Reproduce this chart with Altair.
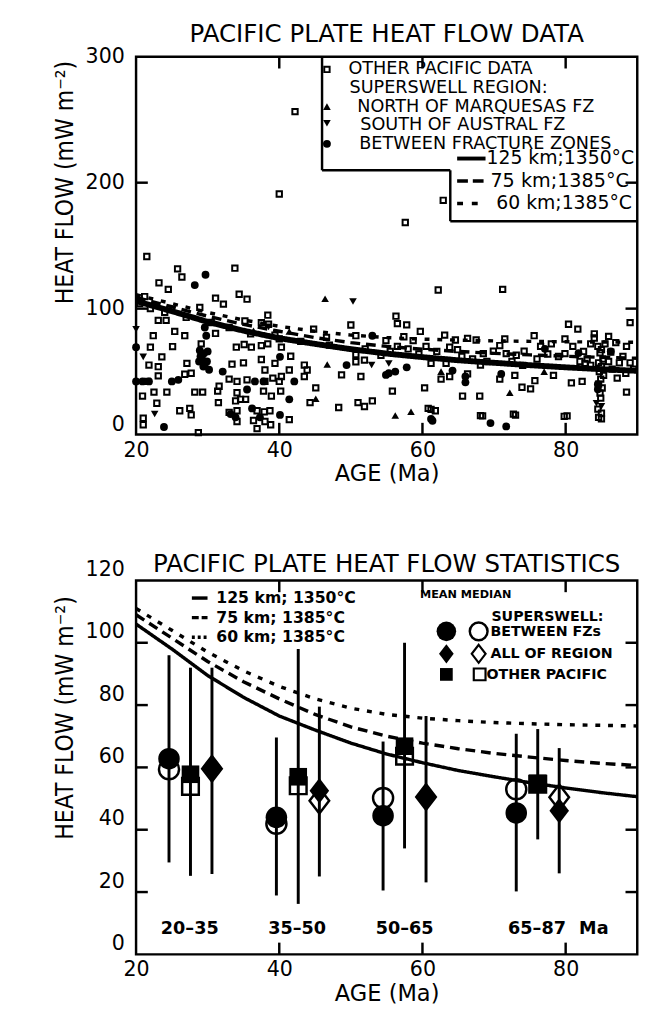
import altair as alt
import pandas as pd

# ---------------- top panel: individual heat-flow measurements ----------------
OTHER_PTS = [
    (21.5, 141.4), (25.8, 131.6), (26.4, 125.1), (23.2, 120.5), (24.5, 115.3), (33.8, 132.1),
    (31.1, 108.3), (32.2, 103.6), (34.4, 111.4), (35.5, 107.5), (28.9, 101.0), (21.2, 109.6),
    (23.1, 90.7), (24.2, 90.7), (25.4, 81.9), (26.8, 78.5), (22.4, 78.5), (25.1, 69.9),
    (22.0, 69.4), (23.6, 61.7), (21.8, 55.2), (23.1, 53.9), (23.1, 46.6), (21.6, 42.2),
    (27.7, 48.7), (26.8, 47.9), (27.1, 56.5), (29.1, 72.0), (31.1, 80.3), (35.2, 90.2),
    (37.5, 88.9), (38.4, 94.8), (38.5, 87.6), (34.0, 69.4), (35.1, 71.5), (36.1, 69.4),
    (37.5, 70.7), (38.4, 72.0), (39.4, 79.0), (40.3, 69.4), (41.6, 62.2), (33.4, 55.9),
    (35.0, 57.0), (37.5, 59.6), (38.0, 51.3), (39.4, 56.5), (41.4, 51.3), (43.5, 55.2),
    (43.9, 51.3), (43.5, 46.1), (44.8, 83.7), (46.6, 77.2), (50.0, 87.0), (50.7, 78.5),
    (50.7, 63.5), (51.9, 59.1), (50.7, 57.8), (51.4, 46.1), (48.7, 47.4), (20.9, 30.6),
    (22.5, 33.7), (24.3, 33.7), (22.9, 24.9), (21.0, 13.0), (21.0, 7.8), (26.1, 18.9),
    (27.5, 20.8), (27.7, 15.6), (28.2, 33.7), (29.3, 33.7), (31.4, 34.5), (31.6, 38.4),
    (31.5, 25.4), (33.0, 44.0), (34.1, 42.2), (35.5, 43.5), (38.0, 42.2), (39.1, 44.8),
    (40.0, 42.2), (37.8, 34.5), (38.9, 30.6), (40.2, 34.5), (40.3, 46.1), (34.1, 33.2),
    (34.6, 28.0), (33.9, 26.7), (35.3, 28.0), (33.0, 17.6), (34.1, 18.9), (34.1, 10.4),
    (36.9, 18.9), (37.9, 18.1), (38.7, 18.9), (36.4, 11.2), (38.0, 10.4), (38.8, 7.8),
    (36.9, 4.7), (41.4, 11.9), (45.1, 37.1), (44.3, 25.4), (48.3, 21.5), (51.0, 25.4),
    (51.9, 22.3), (53.0, 26.7), (28.7, 1.5), (54.2, 62.9),
    (20.5, 104), (22.0, 100), (24.0, 97), (27.0, 93), (30.5, 89), (33.0, 85), (36.0, 80),
    (40.0, 76), (43.0, 74), (47.0, 71), (52.0, 68),
    (57.6, 168.4), (62.9, 186), (62.2, 114.8), (71.2, 115.3), (56.3, 94.0), (56.5, 88.1),
    (57.8, 87.1), (59.7, 81.9), (57.4, 77.7), (58.7, 74.6), (63.1, 79.0), (64.6, 75.1),
    (66.3, 76.4), (67.5, 75.1), (63.8, 69.4), (64.9, 67.4), (71.5, 75.9), (70.8, 70.7),
    (69.9, 66.3), (68.5, 64.3), (71.7, 64.3), (73.1, 63.0), (74.2, 66.3), (75.6, 78.5),
    (80.4, 87.6), (81.7, 83.7), (79.9, 75.9), (79.9, 64.3), (84.0, 76.7), (85.0, 67.4),
    (86.3, 65.5), (89.0, 88.9), (61.2, 56.5), (63.3, 56.5), (66.3, 48.2), (63.8, 46.1),
    (62.6, 44.0), (68.1, 55.2), (72.9, 47.0), (70.8, 44.0), (75.7, 42.8), (75.1, 36.3),
    (73.9, 37.6), (78.3, 47.0), (80.8, 41.0), (82.3, 42.2), (82.7, 56.5), (87.2, 44.8),
    (88.4, 48.7), (88.5, 33.7), (55.8, 34.5), (60.3, 37.1), (65.6, 30.6), (68.0, 30.6),
    (60.8, 20.8), (61.8, 18.9), (68.1, 15.1), (72.7, 16.3), (79.8, 14.5), (84.5, 20.2),
    (84.6, 13.7), (54.9, 74.6), (61.2, 20.0), (68.4, 14.8), (73.0, 15.5), (80.2, 14.8),
    (85.0, 17.0), (85.0, 12.5),
    (84.5, 70), (84.8, 65), (85.2, 60), (84.6, 57), (85.0, 54), (84.7, 50), (85.3, 47),
    (84.9, 44), (84.6, 40), (85.1, 37), (84.8, 33), (84.9, 29), (83.5, 55), (86.0, 58),
    (85.5, 72), (83.0, 60), (86.5, 52), (82.0, 58), (87.5, 57), (88.0, 62), (89.0, 57),
    (89.5, 52), (86.0, 78), (87.0, 73), (84.0, 80), (88.5, 70),
    (55.5, 66), (56.5, 70), (58.0, 68), (59.5, 64), (60.5, 70), (62.0, 66), (65.5, 62),
    (67.0, 60), (69.0, 58), (72.5, 58), (74.0, 55), (76.0, 60), (77.5, 64), (79.0, 62),
    (81.0, 70), (82.5, 66), (83.5, 72), (78.0, 72), (76.5, 70),
    (42.2, 256.4), (40.0, 191.0),
]
BETWEEN_PTS = [
    (29.7, 126.9), (28.2, 118.7), (53.0, 78.5), (20.0, 69.4), (20.0, 42.2), (20.9, 42.2),
    (21.8, 42.2), (23.9, 6.0), (25.0, 42.2), (25.9, 43.5), (28.9, 66.8), (29.5, 64.5),
    (29.2, 60.5), (29.9, 58.0), (29.4, 54.0), (30.2, 51.5), (29.0, 62.0), (30.0, 66.0),
    (29.6, 56.0), (28.8, 58.0), (29.6, 85.0), (29.8, 78.5), (32.1, 50.0), (35.5, 35.8),
    (36.6, 42.2), (37.8, 42.2), (33.2, 16.3), (33.9, 13.7), (36.2, 20.8), (37.3, 13.7),
    (40.1, 15.6), (40.1, 61.7), (41.4, 28.0), (42.1, 42.2), (49.4, 55.2), (54.9, 47.4),
    (55.3, 48.7), (56.2, 50.0), (57.8, 53.4), (64.2, 50.8), (66.0, 41.5), (66.0, 46.1),
    (71.0, 48.2), (77.1, 68.1), (81.8, 64.7), (86.3, 66.0), (84.5, 40.0), (84.5, 36.0),
    (61.2, 12.4), (69.5, 9.1), (71.7, 6.5), (61.4, 11.0),
]
NORTH_PTS = [
    (46.4, 107.8), (46.7, 55.7), (45.1, 28.5), (41.4, 81.9), (36.4, 82.4), (62.6, 50.0),
    (58.4, 18.2), (56.2, 15.1), (77.0, 50.0), (72.2, 33.2),
]
SOUTH_PTS = [
    (20.0, 83.7), (21.0, 61.7), (22.6, 16.3), (50.3, 105.7), (52.9, 55.2), (38.5, 85.5),
    (55.3, 56.5), (84.3, 24.9), (85.0, 22.5),
]

# ---------------- model curves ----------------
MODEL_AGE = [20, 25, 30, 35, 40, 45, 50, 55, 60, 65, 70, 75, 80, 85, 90]
HF_125 = [106, 98, 89.5, 82.5, 76.5, 72, 67.8, 64.3, 61.5, 59, 57, 55.1, 53.4, 51.9, 50.6]
HF_75 = [109, 101.5, 94, 87.5, 82, 77, 73, 70, 67.8, 66, 64.5, 63.3, 62.2, 61.3, 60.6]
HF_60 = [111, 104, 97, 91, 86, 82, 79, 77, 75.8, 75, 74.4, 74, 73.7, 73.5, 73.3]
MODEL_LABELS = ["125 km;1350°C", "75 km;1385°C", "60 km;1385°C"]
MODEL_LABELS2 = ["125 km; 1350°C", "75 km; 1385°C", "60 km; 1385°C"]

# ---------------- bottom panel: statistics ----------------
GROUP_LABELS = ["20–35", "35–50", "50–65", "65–87"]
GROUP_LO = [20, 35, 50, 65]
GROUP_HI = [35, 50, 65, 87]

BTW_AGE = [24.6, 39.6, 54.5, 73.1]
BTW_MEAN = [62.8, 44.0, 44.5, 45.4]
BTW_MEDIAN = [59.4, 41.9, 50.2, 53.0]
BTW_LO = [29.5, 18.9, 20.5, 20.2]
BTW_HI = [96.0, 69.6, 68.3, 70.8]

REG_AGE = [30.6, 45.6, 60.5, 79.1]
REG_MEAN = [59.9, 52.5, 50.7, 46.1]
REG_MEDIAN = [59.6, 49.3, 50.5, 50.4]
REG_LO = [25.8, 25.0, 23.1, 26.0]
REG_HI = [92.0, 79.5, 76.5, 66.2]

OTH_AGE = [27.6, 42.65, 57.5, 76.1]
OTH_MEAN = [57.8, 57.0, 66.8, 54.9]
OTH_MEDIAN = [53.9, 54.1, 63.6, 54.6]
OTH_LO = [25.2, 16.2, 34.0, 36.9]
OTH_HI = [92.0, 98.0, 100.0, 72.3]

TOP_LEGEND = ["OTHER PACIFIC DATA", "SUPERSWELL REGION:", "NORTH OF MARQUESAS FZ",
              "SOUTH OF AUSTRAL FZ", "BETWEEN FRACTURE ZONES"]
BOT_LEGEND = ["SUPERSWELL:", "BETWEEN FZs", "ALL OF REGION", "OTHER PACIFIC"]

FONT = "DejaVu Sans"
NARROW = "Liberation Sans Narrow, DejaVu Sans Condensed, DejaVu Sans"
W = 512
H1 = 386
H2 = 382
TICK = 12
DIAMOND = "M0,-1.3L1,0L0,1.3L-1,0Z"

XS = alt.Scale(domain=[20, 90], nice=False, zero=False)
YS1 = alt.Scale(domain=[0, 300], nice=False)
YS2 = alt.Scale(domain=[0, 120], nice=False)


def xaxis():
    return alt.Axis(values=[20, 40, 60, 80], ticks=False, tickSize=0, domain=False, grid=False,
                    labelFont=FONT, labelFontSize=21, labelColor="black", labelPadding=5,
                    labelFlush=False, format="d",
                    title="AGE (Ma)", titleFont=FONT, titleFontSize=23, titleFontWeight="normal",
                    titleColor="black", titlePadding=3)


def yaxis(values, title_y, offset):
    return alt.Axis(values=values, ticks=False, tickSize=0, domain=False, grid=False,
                    labelFont=FONT, labelFontSize=21, labelColor="black", labelPadding=12,
                    labelOffset=offset, format="d",
                    title="HEAT FLOW (mW m⁻²)", titleFont=NARROW, titleFontSize=25,
                    titleFontWeight="normal", titleColor="black", titlePadding=8, titleY=title_y)


XA = xaxis()
YA1 = yaxis([0, 100, 200, 300], 128, {"condition": {"test": "datum.value === 0", "value": -10}, "value": 0})
YA2 = yaxis([0, 20, 40, 60, 80, 100, 120], 140, -11)

X = alt.X("age:Q", scale=XS, axis=XA)
ONE = pd.DataFrame({"a": [0]})


def pts(lst):
    return pd.DataFrame(lst, columns=["age", "hf"])


model = pd.DataFrame({"age": MODEL_AGE, "h125": HF_125, "h75": HF_75, "h60": HF_60})


def curves(ys, ya, widths):
    out = []
    for col, dash, wdt in [("h125", [1, 0], widths[0]), ("h75", [10, 6], widths[1]), ("h60", [5, 8], widths[2])]:
        out.append(alt.Chart(model).mark_line(color="black", strokeWidth=wdt, strokeDash=dash)
                   .encode(x=X, y=alt.Y(f"{col}:Q", scale=ys, axis=ya)))
    return out


def rule(x1, x2, y1, y2, **kw):
    return alt.Chart(ONE).mark_rule(color="black", **kw).encode(
        x=alt.value(x1), x2=alt.value(x2), y=alt.value(y1), y2=alt.value(y2))


def label(txt, x, y, size, weight="normal", align="left"):
    return alt.Chart(pd.DataFrame({"t": [txt]})).mark_text(
        font=FONT, fontSize=size, fontWeight=weight, align=align, baseline="middle",
        color="black").encode(x=alt.value(x), y=alt.value(y), text="t:N")


def sym(shape, x, y, size, filled=True, sw=2.0):
    return alt.Chart(ONE).mark_point(shape=shape, filled=filled, size=size, color="black",
                                     opacity=1, strokeWidth=sw).encode(x=alt.value(x), y=alt.value(y))


def frame_and_ticks(H, ys, ya, yvals):
    ticks_y = pd.DataFrame({"hf": yvals})
    ticks_x = pd.DataFrame({"age": [40, 60, 80]})
    Y = alt.Y("hf:Q", scale=ys, axis=ya)
    return [
        alt.Chart(ticks_y).mark_rule(color="black", strokeWidth=2.5).encode(
            y=Y, x=alt.value(0), x2=alt.value(TICK)),
        alt.Chart(ticks_y).mark_rule(color="black", strokeWidth=2.5).encode(
            y=Y, x=alt.value(W - TICK), x2=alt.value(W)),
        alt.Chart(ticks_x).mark_rule(color="black", strokeWidth=2.5).encode(
            x=X, y=alt.value(H), y2=alt.value(H - TICK)),
        alt.Chart(ticks_x).mark_rule(color="black", strokeWidth=2.5).encode(
            x=X, y=alt.value(0), y2=alt.value(TICK)),
        alt.Chart(ONE).mark_rect(fillOpacity=0, stroke="black", strokeWidth=2.5).encode(
            x=alt.value(0), x2=alt.value(W), y=alt.value(0), y2=alt.value(H)),
    ]


Y1 = alt.Y("hf:Q", scale=YS1, axis=YA1)

# ---------------- top panel ----------------
top_layers = [
    alt.Chart(pts(OTHER_PTS)).mark_point(shape="square", filled=False, size=30, strokeWidth=2,
                                         color="black", opacity=1).encode(x=X, y=Y1),
    alt.Chart(pts(BETWEEN_PTS)).mark_point(shape="circle", filled=True, size=64, color="black",
                                           opacity=1).encode(x=X, y=Y1),
    alt.Chart(pts(NORTH_PTS)).mark_point(shape="triangle-up", filled=True, size=60, color="black",
                                         opacity=1).encode(x=X, y=Y1),
    alt.Chart(pts(SOUTH_PTS)).mark_point(shape="triangle-down", filled=True, size=60, color="black",
                                         opacity=1).encode(x=X, y=Y1),
] + curves(YS1, YA1, [6, 3.5, 3.5])

# legend box (white, L-shaped)
top_layers += [
    alt.Chart(ONE).mark_rect(color="white").encode(x=alt.value(190), x2=alt.value(W), y=alt.value(0), y2=alt.value(116)),
    alt.Chart(ONE).mark_rect(color="white").encode(x=alt.value(321), x2=alt.value(W), y=alt.value(116), y2=alt.value(168)),
    rule(190, 190, 0, 116, strokeWidth=2.5),
    rule(190, 321, 116, 116, strokeWidth=2.5),
    rule(321, 321, 116, 168, strokeWidth=2.5),
    rule(321, W, 168, 168, strokeWidth=2.5),
    sym("square", 195, 13, 30, filled=False, sw=2),
    sym("triangle-up", 195, 51, 60),
    sym("triangle-down", 195, 68, 60),
    sym("circle", 195, 89, 64),
    label(TOP_LEGEND[0], 217, 13, 18),
    label(TOP_LEGEND[1], 218, 32, 18),
    label(TOP_LEGEND[2], 226, 51, 18),
    label(TOP_LEGEND[3], 229, 70, 18),
    label(TOP_LEGEND[4], 228, 89, 18),
    rule(328, 357, 104, 104, strokeWidth=4),
    rule(328, 357, 127, 127, strokeWidth=3.5, strokeDash=[11, 5]),
    rule(328, 350, 150, 150, strokeWidth=3.5, strokeDash=[6, 9]),
    label(MODEL_LABELS[0], 358, 104, 19.2),
    label(MODEL_LABELS[1], 362, 127, 19.6),
    label(MODEL_LABELS[2], 368, 150, 19.2),
]
top_layers += frame_and_ticks(H1, YS1, YA1, [100, 200])

top = alt.layer(*top_layers).properties(
    width=W, height=H1,
    title=alt.TitleParams("PACIFIC PLATE HEAT FLOW DATA", font=FONT, fontSize=25,
                          fontWeight="normal", color="black", anchor="middle", frame="group",
                          offset=-1))

# ---------------- bottom panel ----------------
def stat_df(age, mean, median, lo, hi):
    return pd.DataFrame({"age": age, "mean": mean, "median": median, "lo": lo, "hi": hi})


cats = [
    (stat_df(BTW_AGE, BTW_MEAN, BTW_MEDIAN, BTW_LO, BTW_HI), "circle", 484, 420),
    (stat_df(REG_AGE, REG_MEAN, REG_MEDIAN, REG_LO, REG_HI), DIAMOND, 400, 400),
    (stat_df(OTH_AGE, OTH_MEAN, OTH_MEDIAN, OTH_LO, OTH_HI), "square", 324, 289),
]

bot_layers = curves(YS2, YA2, [3.5, 3.5, 3.5])
for df, shape, sf, so in cats:
    bot_layers.append(alt.Chart(df).mark_rule(color="black", strokeWidth=3).encode(
        x=X, y=alt.Y("lo:Q", scale=YS2, axis=YA2), y2="hi:Q"))
for df, shape, sf, so in cats:
    bot_layers.append(alt.Chart(df).mark_point(shape=shape, filled=False, size=so, strokeWidth=2.5,
                                               color="black", opacity=1).encode(
        x=X, y=alt.Y("median:Q", scale=YS2, axis=YA2)))
for df, shape, sf, so in cats:
    bot_layers.append(alt.Chart(df).mark_point(shape=shape, filled=True, size=sf, color="black",
                                               opacity=1).encode(
        x=X, y=alt.Y("mean:Q", scale=YS2, axis=YA2)))

groups = pd.DataFrame({"label": GROUP_LABELS,
                       "age": [(a + b) / 2 for a, b in zip(GROUP_LO, GROUP_HI)]})
bot_layers.append(alt.Chart(groups).mark_text(font=FONT, fontSize=18, fontWeight="bold",
                                              align="center", baseline="middle", color="black")
                  .encode(x=X, y=alt.value(H2 - 26), text="label:N"))
bot_layers.append(alt.Chart(groups.tail(1)).mark_text(font=FONT, fontSize=18, fontWeight="bold",
                                                      align="left", baseline="middle", color="black",
                                                      dx=43, text="Ma")
                  .encode(x=X, y=alt.value(H2 - 26)))

bot_layers += [
    rule(57, 73, 18, 18, strokeWidth=3.5),
    rule(57, 73, 38, 38, strokeWidth=3.5, strokeDash=[7, 3]),
    rule(57, 73, 58, 58, strokeWidth=3.5, strokeDash=[3, 3]),
    label(MODEL_LABELS2[0], 82, 18, 16, weight="bold"),
    label(MODEL_LABELS2[1], 82, 38, 16, weight="bold"),
    label(MODEL_LABELS2[2], 82, 58, 16, weight="bold"),
    label("MEAN MEDIAN", 290, 15, 11.5, weight="bold"),
    label(BOT_LEGEND[0], 363, 37, 14.5, weight="bold"),
    label(BOT_LEGEND[1], 362, 53, 14.5, weight="bold"),
    label(BOT_LEGEND[2], 362, 75, 14.5, weight="bold"),
    label(BOT_LEGEND[3], 358, 97, 14.5, weight="bold"),
    sym("circle", 317, 52, 400),
    sym("circle", 350, 52, 330, filled=False, sw=2.5),
    sym(DIAMOND, 317, 75, 225),
    sym(DIAMOND, 350, 75, 200, filled=False, sw=2.2),
    sym("square", 317, 96, 169),
    sym("square", 351, 96, 144, filled=False, sw=2.2),
]
bot_layers += frame_and_ticks(H2, YS2, YA2, [20, 40, 60, 80, 100])

bottom = alt.layer(*bot_layers).properties(
    width=W, height=H2,
    title=alt.TitleParams("PACIFIC PLATE HEAT FLOW STATISTICS", font=FONT, fontSize=25,
                          fontWeight="normal", color="black", anchor="middle", frame="group",
                          offset=-18))

chart = alt.vconcat(top, bottom, spacing=68).properties(
    padding={"left": 53, "top": 12, "right": 0, "bottom": 0},
    background="white",
).configure_view(stroke=None)

chart.save("out.html", embed_options={"renderer": "svg", "actions": False})
